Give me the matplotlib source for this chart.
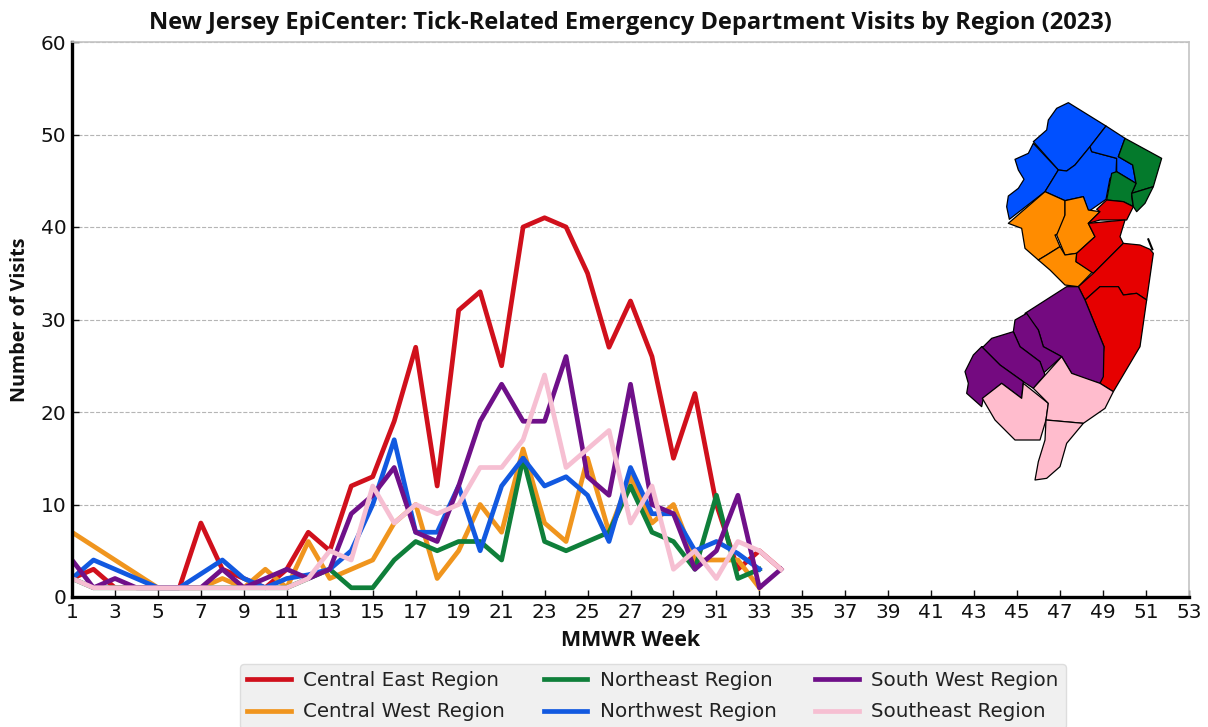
import matplotlib
matplotlib.use("Agg")
import matplotlib.pyplot as plt
from matplotlib.patches import Polygon

W, H = 1208, 727
weeks = list(range(1, 35))
central_east = [2,3,1,1,1,1,8,3,2,1,3,7,5,12,13,19,27,12,31,33,25,40,41,40,35,27,32,26,15,22,10,3,5,3]
central_west = [7,5.5,4,2.5,1,1,1,2,1,3,1,6,2,3,4,8,10,2,5,10,7,16,8,6,15,7,13,8,10,4,4,4,1]
northeast = [2,1,1,1,1,1,1,1,1,1,1,2,3,1,1,4,6,5,6,6,4,15,6,5,6,7,12,7,6,3,11,2,3]
northwest = [2,4,3,2,1,1,2.5,4,2,1,2,2.4,3,5,10,17,7,7,12,5,12,15,12,13,11,6,14,9,9,5,6,4.7,3]
south_west = [4,1,2,1,1,1,1,3,1,2,3,2,3,9,11,14,7,6,12,19,23,19,19,26,13,11,23,10,9,3,5,11,1,3]
southeast = [2,1,1,1,1,1,1,1,1,1,1,2,5,4,12,8,10,9,10,14,14,17,24,14,16,18,8,12,3,5,2,6,5,3]

series = [
    ("Central East Region", central_east, "#d0101c"),
    ("Central West Region", central_west, "#f0951e"),
    ("Northeast Region", northeast, "#0f7f3a"),
    ("Northwest Region", northwest, "#1259e0"),
    ("South West Region", south_west, "#6f1089"),
    ("Southeast Region", southeast, "#f6bfd2"),
]

x_ticks = list(range(1, 54, 2))
y_ticks = [0, 10, 20, 30, 40, 50, 60]

# County outlines of the decorative inset map, in the inset's own units
map_regions = {
    "#0050ff": [
        [(250,155),(290,120),(295,90),(320,55),(355,38),(468,108),(420,170),(375,225),(350,243),(325,240)],
        [(250,160),(325,240),(285,305),(178,388),(170,350),(175,318),(205,295),(222,268),(205,240),(195,208),(235,190)],
        [(325,240),(350,243),(375,225),(420,170),(425,185),(500,205),(498,250),(480,265),(468,328),(415,365),(400,320),(345,332),(285,305)],
        [(468,108),(525,145),(505,200),(548,225),(558,280),(500,245),(500,205),(425,185),(420,170)],
    ],
    "#047a2c": [
        [(525,145),(635,205),(610,290),(545,310),(558,280),(548,225),(505,200)],
        [(485,250),(500,245),(558,280),(545,310),(545,320),(550,350),(520,335),(470,330)],
        [(545,310),(610,290),(585,340),(560,365),(550,350)],
    ],
    "#ff8c00": [
        [(285,305),(345,332),(345,375),(330,430),(315,435),(330,470),(290,495),(265,510),(225,475),(215,415),(175,400)],
        [(345,332),(400,320),(415,360),(450,365),(415,400),(435,440),(380,490),(345,495),(320,435),(345,375)],
        [(330,470),(345,495),(380,490),(378,515),(428,545),(385,590),(345,585),(300,540),(265,510),(290,495)],
    ],
    "#e60000": [
        [(440,358),(470,330),(520,335),(550,350),(530,390),(450,390),(415,400),(450,365)],
        [(415,400),(525,390),(510,440),(520,460),(430,550),(378,515),(380,490),(435,440)],
        [(520,460),(570,465),(600,478),(610,490),(590,630),(560,610),(520,615),(505,590),(450,590),(405,630),(385,590),(430,550)],
        [(405,630),(450,590),(505,590),(520,615),(560,610),(590,630),(570,770),(490,905),(450,880),(462,770)],
    ],
    "#740a80": [
        [(350,590),(385,590),(405,630),(462,770),(460,860),(450,880),(400,865),(365,850),(335,800),(280,770),(265,720),(225,670)],
        [(195,690),(230,670),(265,720),(280,770),(335,800),(280,850),(270,815),(210,770),(190,725)],
        [(100,770),(125,745),(190,725),(210,770),(270,815),(285,855),(250,895),(220,875),(150,825),(95,770)],
        [(95,770),(150,825),(220,875),(215,925),(155,880),(100,925),(95,950),(50,910),(55,880),(45,845),(70,795)],
    ],
    "#ffbccd": [
        [(97,925),(155,880),(215,925),(220,880),(295,940),(288,990),(270,1050),(195,1050),(135,990)],
        [(335,800),(365,850),(450,880),(490,905),(465,955),(400,1000),(288,990),(295,940),(250,895)],
        [(288,990),(400,1000),(350,1060),(330,1130),(290,1165),(255,1170),(265,1115),(285,1050)],
    ],
}

fig = plt.figure(figsize=(W / 100, H / 100), dpi=100, facecolor="white")
ax = fig.add_axes([72 / W, 1 - 597 / H, (1189 - 72) / W, (597 - 42) / H])

for label, values, color in series:
    ax.plot(weeks[:len(values)], values, color=color, lw=3.4, label=label, solid_joinstyle="round")

ax.set_xlim(1, 53)
ax.set_ylim(0, 60)
ax.set_xticks(x_ticks)
ax.set_yticks(y_ticks)
ax.tick_params(axis="both", direction="in", length=5, width=1, labelsize=14.5, pad=4, colors="#111111")
ax.grid(axis="y", color="#b5b5b5", ls="--", lw=0.8)
ax.set_axisbelow(True)
for side in ("left", "bottom"):
    ax.spines[side].set_linewidth(2.4)
    ax.spines[side].set_color("black")
for side in ("top", "right"):
    ax.spines[side].set_linewidth(1.2)
    ax.spines[side].set_color("#c4c4c4")

fig.text(630 / W, 1 - 23 / H, "New Jersey EpiCenter: Tick-Related Emergency Department Visits by Region (2023)",
         ha="center", va="center", fontsize=17, fontweight="bold", family="Open Sans", color="#111111")
fig.text(631 / W, 1 - 641 / H, "MMWR Week", ha="center", va="center", fontsize=15.4,
         fontweight="bold", family="Open Sans", color="#111111")
fig.text(20 / W, 1 - 320 / H, "Number of Visits", ha="center", va="center", rotation=90,
         fontsize=14.2, fontweight="bold", family="Open Sans", color="#111111")

leg = ax.legend(ncol=3, loc="upper left", bbox_to_anchor=(240 / W, 1 - 664 / H), bbox_transform=fig.transFigure,
                borderaxespad=0, fontsize=14.3, frameon=True, facecolor="#f0f0f0", edgecolor="#dddddd", framealpha=1,
                columnspacing=1.95, handlelength=2.2, handletextpad=0.62, labelspacing=0.62, borderpad=0.36, fancybox=True)
for t in leg.get_texts():
    t.set_color("#222222")

inset = fig.add_axes([950 / W, 1 - 490 / H, 230 / W, 400 / H], facecolor="none")
inset.set_xlim(0, 690)
inset.set_ylim(1200, 0)
inset.axis("off")
for color, polys in map_regions.items():
    for poly in polys:
        inset.add_patch(Polygon(poly, closed=True, facecolor=color, edgecolor="black", lw=0.9, joinstyle="round"))
inset.plot([595, 607], [448, 478], color="black", lw=1.5)

fig.savefig("out.png", dpi=100)
